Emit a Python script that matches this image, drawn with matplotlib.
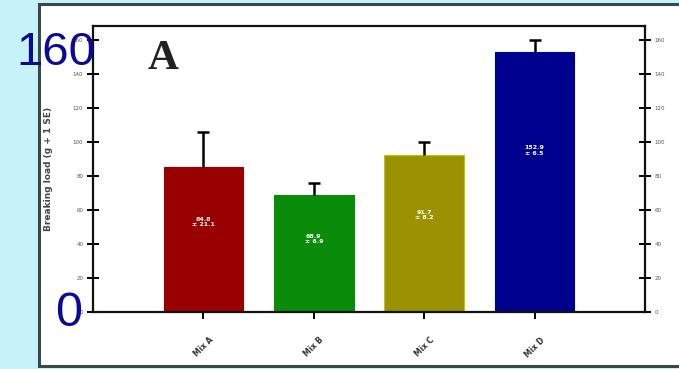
import matplotlib.pyplot as plt
from matplotlib.patches import Rectangle

# dados
categorias = ["Mix A", "Mix B", "Mix C", "Mix D"]
medias = [85, 69, 92, 153]
erro_sup = [21, 7, 8, 7]
rotulos_barras = ["84.8\n± 21.1", "68.9\n± 6.9", "91.7\n± 8.2", "152.9\n± 6.5"]
cores = ["#990000", "#0a8c0a", "#9a9200", "#00008f"]
bordas = ["#990000", "#0a8c0a", "#c8c000", "#00008f"]
ticks_y = [0, 20, 40, 60, 80, 100, 120, 140, 160]

W, H = 679, 369
fig = plt.figure(figsize=(W / 100, H / 100), dpi=100)
fig.patch.set_facecolor("#c6f3f9")

# painel branco do slide
painel = Rectangle((39 / W, 3 / H), 1.0, (364 - 2) / H, transform=fig.transFigure,
                   facecolor="white", edgecolor="#3c4747", linewidth=2.2, zorder=-1)
fig.patches.append(painel)

ax = fig.add_axes([93 / W, (H - 312) / H, (645 - 93) / W, (312 - 26) / H])
ax.set_zorder(1)
ax.set_facecolor("white")

x = list(range(len(categorias)))
ax.bar(x, medias, width=0.72, color=cores, edgecolor=bordas, linewidth=0.8, zorder=2)

# barras de erro só para cima, com traço no topo
topos = [m + e for m, e in zip(medias, erro_sup)]
ax.vlines(x, medias, topos, color="black", linewidth=1.8, zorder=3)
ax.plot(x, topos, linestyle="none", marker="_", markersize=9, markeredgewidth=1.8,
        color="black", zorder=3)

for xi, m, txt in zip(x, medias, rotulos_barras):
    ax.text(xi, m * 0.62, txt, ha="center", va="center", color="white",
            fontsize=4.5, fontweight="bold", linespacing=1.1, zorder=4)

ax.set_xlim(-1, 4)
ax.set_ylim(0, 168)
ax.set_yticks(ticks_y)
ax.set_yticklabels([str(t) for t in ticks_y], fontsize=4, color="#555555")
ax.tick_params(axis="y", which="both", direction="inout", length=8, width=1.4,
               left=True, right=True, labelleft=True, labelright=True, pad=3)
ax.set_xticks(x)
ax.set_xticklabels(categorias, rotation=45, ha="center", fontsize=5.5,
                   color="#333333", fontweight="bold")
ax.tick_params(axis="x", direction="out", length=5, width=1.4, pad=12)

for lado in ["left", "right", "bottom", "top"]:
    ax.spines[lado].set_linewidth(1.6)
    ax.spines[lado].set_color("#111111")

ax.set_ylabel("Breaking load (g + 1 SE)", fontsize=6.5, fontweight="bold",
              color="#444444", labelpad=14)

ax.text(0.127, 0.95, "A", transform=ax.transAxes, fontsize=31, fontweight="bold",
        family="Liberation Serif", color="#222222", va="top", ha="center")

# números grandes sobrepostos do slide
t1 = fig.text(16 / W, 1 - 65 / H, "160", fontsize=34, color="#0a0a96",
              family="Liberation Sans", ha="left", va="baseline")
t2 = fig.text(55 / W, 1 - 326 / H, "0", fontsize=35, color="#0a0a96",
              family="Liberation Sans", ha="left", va="baseline")
t1.set_zorder(5)
t2.set_zorder(5)

fig.savefig("out.png", dpi=100, facecolor=fig.get_facecolor())
